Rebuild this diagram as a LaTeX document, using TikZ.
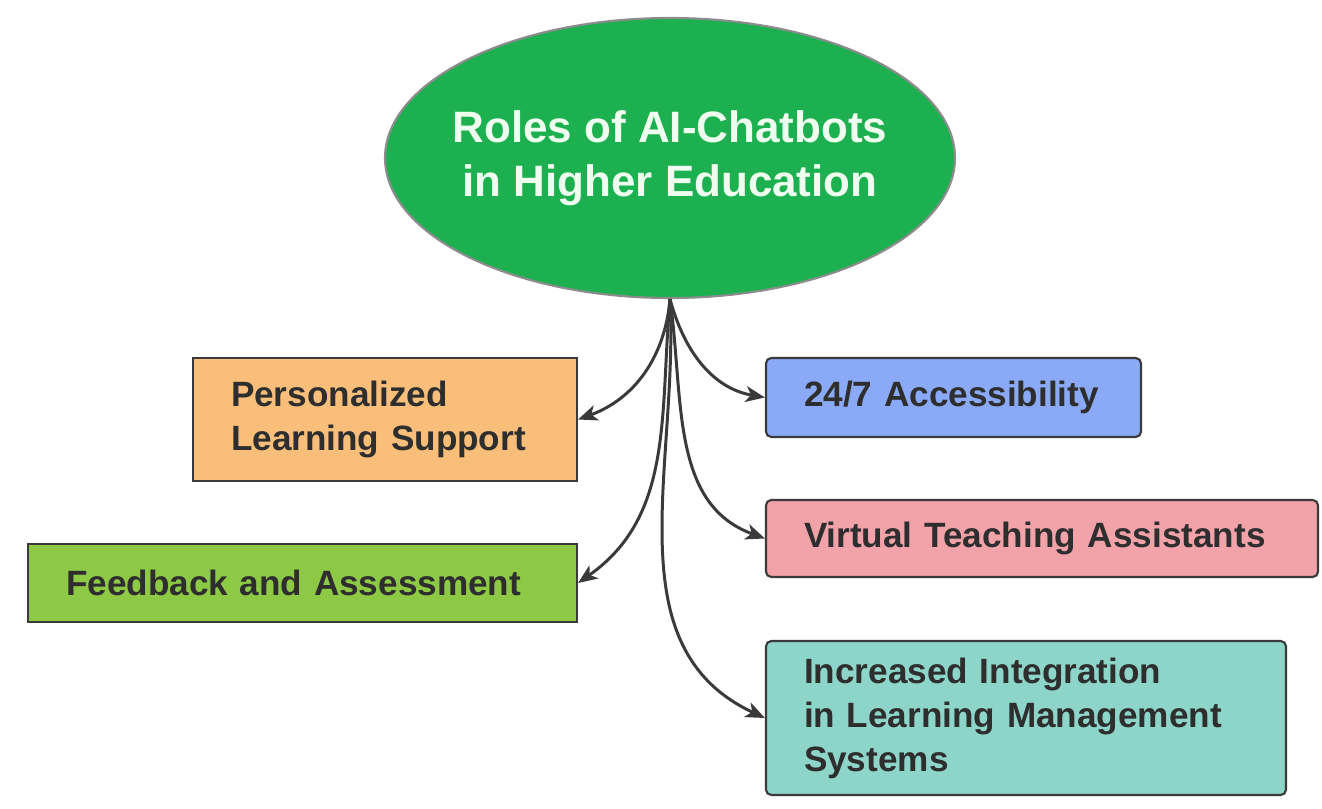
\documentclass[tikz,border=0pt]{standalone}
\usepackage{fontspec}
\setmainfont{Liberation Sans}
\usepackage{tikz}
\usetikzlibrary{arrows.meta,shapes.geometric}
\definecolor{hubgreen}{HTML}{1DB050}
\definecolor{hubtext}{HTML}{EEFFF0}
\definecolor{darkline}{HTML}{3A3A3A}
\definecolor{boxtext}{HTML}{2E2E2E}
\definecolor{orangefill}{HTML}{F9BF7A}
\definecolor{greenfill}{HTML}{8DC945}
\definecolor{bluefill}{HTML}{8AA9F6}
\definecolor{pinkfill}{HTML}{F2A3AA}
\definecolor{tealfill}{HTML}{8ED5C9}
\tikzset{hub/.style = {shape=ellipse,draw=gray!90,line width=1.2pt,fill=hubgreen,inner xsep=-0.45cm,inner ysep=0pt,
  text=hubtext,align=center,font=\bfseries\fontsize{25pt}{30.7pt}\selectfont}}
\tikzset{role/.style = {shape=rectangle,draw=darkline,line width=1.2pt,inner xsep=0.76cm,inner ysep=0pt,
  text=boxtext,align=left,font=\bfseries\fontsize{20pt}{25pt}\selectfont}}
\tikzset{roundrole/.style = {role,rounded corners=3pt}}
\tikzset{edge/.style = {->,> = {Stealth[length=11pt,width=9pt,inset=3pt]},line width=1.7pt,draw=darkline}}

\begin{document}
\begin{tikzpicture}
\useasboundingbox (0,0) rectangle (26.44,16.16);
% vertices
\node[hub,minimum width=11.4cm,minimum height=5.6cm] (hub) at (13.4,13.0) {Roles of AI-Chatbots\\in Higher Education};
\node[role,fill=orangefill,text width=6.16cm,minimum height=2.46cm] (pers) at (7.70,7.77) {Personalized\\Learning Support};
\node[role,fill=greenfill,text width=9.46cm,minimum height=1.56cm] (feed) at (6.05,4.50) {Feedback and Assessment};
\node[roundrole,fill=bluefill,text width=5.98cm,minimum height=1.58cm] (acc) at (19.07,8.21) {24/7 Accessibility};
\node[roundrole,fill=pinkfill,text width=9.52cm,minimum height=1.54cm] (virt) at (20.84,5.39) {Virtual Teaching Assistants};
\node[roundrole,fill=tealfill,text width=8.88cm,minimum height=3.08cm] (integ) at (20.52,1.80) {Increased Integration\\in Learning Management\\Systems};

%edges
\draw[edge] (hub.south) to[out=-95,in=20] (pers.east);
\draw[edge] (hub.south) to[out=-95,in=35] (feed.east);
\draw[edge] (hub.south) to[out=-75,in=170] (acc.west);
\draw[edge] (hub.south) to[out=-82,in=160] (virt.west);
\draw[edge] (hub.south) to[out=-87,in=155] (integ.west);
\end{tikzpicture}
\end{document}
